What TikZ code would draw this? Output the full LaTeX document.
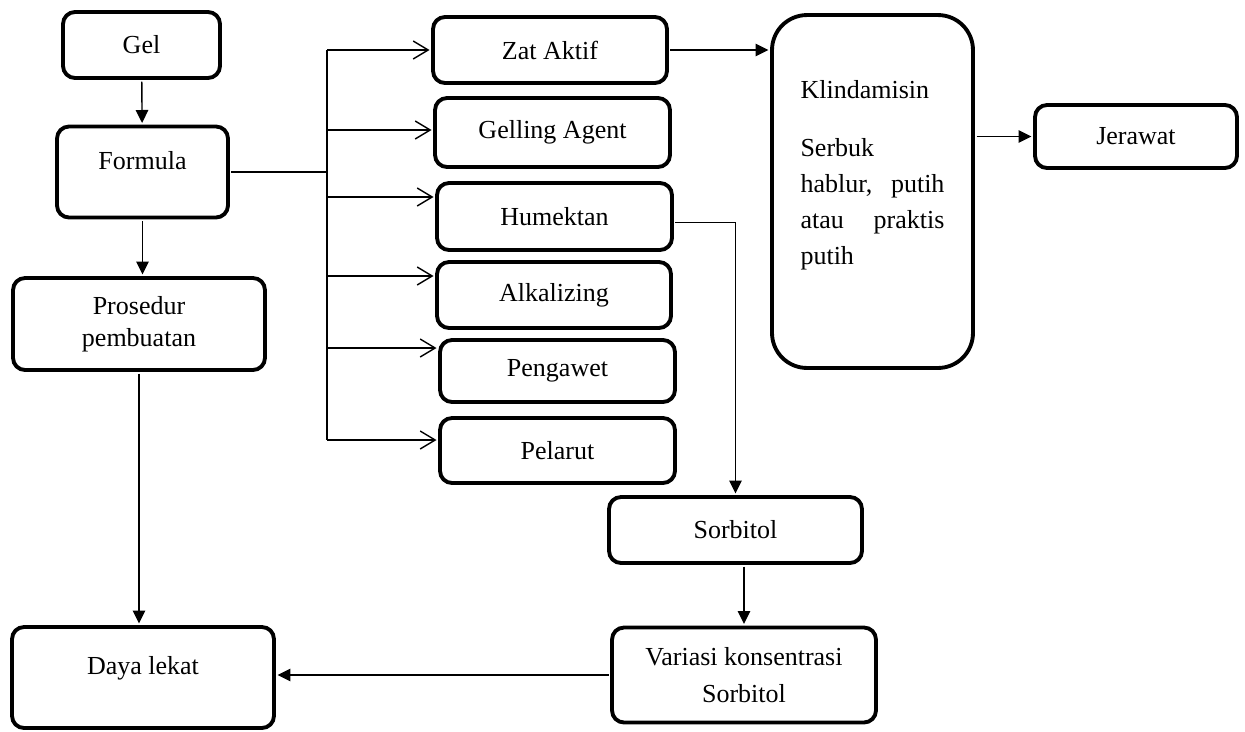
\documentclass[tikz,border=0pt]{standalone}
\usepackage{fontspec}
\setmainfont{Liberation Serif}
\usetikzlibrary{arrows.meta}

\begin{document}
\begin{tikzpicture}[x=0.02cm,y=-0.02cm,inner sep=0pt,outer sep=2pt,
font=\fontsize{14.8pt}{18pt}\selectfont,
box/.style={draw,rectangle,rounded corners=0.24cm,line width=2.2pt,align=center},
flow/.style={line width=0.8pt,-{Triangle[length=0.26cm,width=0.25cm]}},
branch/.style={line width=0.8pt,-{Straight Barb[length=0.3cm,width=0.36cm]}}]

\useasboundingbox (0,0) rectangle (1245,731);

% left column
\draw (141.5,45) node[box,minimum width=3.14cm,minimum height=1.32cm] (gel) {Gel};
\draw (142.5,172) node[box,minimum width=3.42cm,minimum height=1.82cm,text depth=12.6pt] (formula) {Formula};
\draw (139,324) node[box,minimum width=5.04cm,minimum height=1.84cm] (prosedur) {Prosedur\\pembuatan};
\draw (143,677.5) node[box,minimum width=5.24cm,minimum height=2.02cm,text depth=14pt] (lekat) {Daya lekat};

% ingredients
\draw (550,50) node[box,minimum width=4.68cm,minimum height=1.32cm] (zat) {Zat Aktif};
\draw (552.5,132.5) node[box,minimum width=4.7cm,minimum height=1.38cm] (gelling) {Gelling Agent};
\draw (554.5,216.5) node[box,minimum width=4.7cm,minimum height=1.34cm] (humektan) {Humektan};
\draw (554,295) node[box,minimum width=4.68cm,minimum height=1.32cm] (alkalizing) {Alkalizing};
\draw (557.5,371) node[box,minimum width=4.7cm,minimum height=1.24cm] (pengawet) {Pengawet};
\draw (557.5,450.5) node[box,minimum width=4.7cm,minimum height=1.3cm] (pelarut) {Pelarut};

% sorbitol
\draw (735.5,530) node[box,minimum width=5.06cm,minimum height=1.32cm] (sorbitol) {Sorbitol};
\draw (744,675) node[box,minimum width=5.28cm,minimum height=1.9cm] (variasi) {Variasi konsentrasi\\[3pt]Sorbitol};

% active substance
\draw (872.5,191.5) node[box,rounded corners=0.7cm,inner xsep=0.57cm,inner ysep=0.1cm] (klin)
  {\parbox[c][6.86cm][t]{2.88cm}{\fontsize{14.8pt}{20.4pt}\selectfont\vspace*{1.2cm}%
  Klindamisin\\[13pt]Serbuk\\hablur,\hfill putih\\atau\hfill praktis\\putih}};
\draw (1136,136.5) node[box,minimum width=4.04cm,minimum height=1.26cm] (jerawat) {Jerawat};

\coordinate (split) at (327,172);

\draw[flow] (gel) -- (formula);
\draw[flow] (formula.south) -- (formula.south |- prosedur.north);
\draw[flow] (prosedur.south) -- (prosedur.south |- lekat.north);
\draw[line width=0.8pt] (formula.east) -- (split);
\draw[line width=0.8pt] (split |- 0,50) -- (split |- 0,440);
\foreach \n/\yy in {zat/50,gelling/130,humektan/197,alkalizing/276,pengawet/348,pelarut/440}
  \draw[branch] (split |- 0,\yy) -- (\n.west |- 0,\yy);
\draw[flow] (zat.east) -- (klin.west |- zat.east);
\draw[flow] (klin.east |- jerawat.west) -- (jerawat.west);
\draw[flow] ([yshift=-3.4pt]humektan.east) -| (sorbitol.north);
\draw[flow] (variasi.north |- sorbitol.south) -- (variasi.north);
\draw[flow] (variasi.west) -- (lekat.east |- variasi.west);

\end{tikzpicture}
\end{document}
